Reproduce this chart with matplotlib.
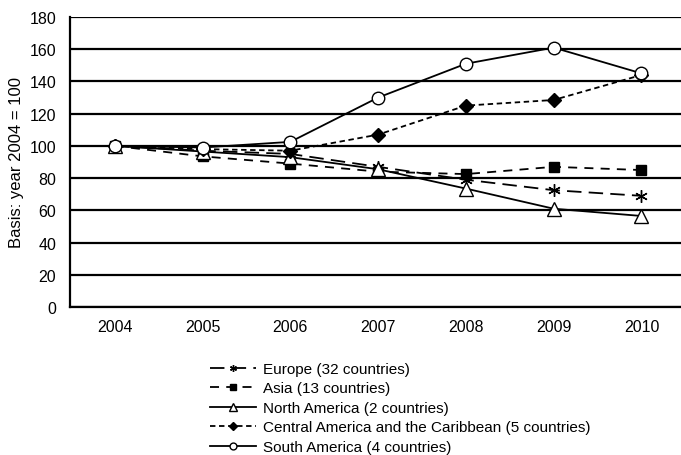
import matplotlib
matplotlib.use("Agg")
import matplotlib.pyplot as plt

plt.rcParams['font.family'] = ['Liberation Sans', 'DejaVu Sans']

years = ['2004', '2005', '2006', '2007', '2008', '2009', '2010']
europe = [100, 97, 95, 87, 79, 72.5, 69]
asia = [100, 93.5, 89, 84, 82.5, 87, 85]
north_america = [100, 96.5, 93, 85.5, 73.5, 61, 56.5]
central_america = [100, 98, 97, 107, 125, 128.5, 144]
south_america = [100, 99, 102.5, 130, 151, 161, 145]

labels = ['Europe (32 countries)', 'Asia (13 countries)', 'North America (2 countries)',
          'Central America and the Caribbean (5 countries)', 'South America (4 countries)']
y_ticks = [0, 20, 40, 60, 80, 100, 120, 140, 160, 180]

fig = plt.figure(figsize=(6.81, 4.56), dpi=100)
ax = fig.add_axes([70/681, 1-308/456, 1.0 - 70/681, (308-18)/456])

x = list(range(len(years)))
lw = 1.3
ax.plot(x, europe, color='black', lw=lw, ls=(0, (8, 4)), marker=(6, 2, 0), ms=9, mew=1.0, label=labels[0])
ax.plot(x, asia, color='black', lw=lw, ls=(0, (5, 4)), marker='s', ms=7.5, mfc='black', label=labels[1])
ax.plot(x, north_america, color='black', lw=lw, ls='-', marker='^', ms=10, mfc='white', mew=1.0, label=labels[2])
ax.plot(x, central_america, color='black', lw=lw, ls=(0, (3, 2)), marker='D', ms=7.5, mfc='black', label=labels[3])
ax.plot(x, south_america, color='black', lw=lw, ls='-', marker='o', ms=9, mfc='white', mew=1.0, label=labels[4])

ax.set_xlim(-0.51, 6.45)
ax.set_ylim(0, 180)
ax.set_yticks(y_ticks)
ax.set_xticks(x)
ax.set_xticklabels(years)
ax.yaxis.grid(True, color='black', lw=1.6)
ax.set_axisbelow(True)
for s in ['right', 'top']:
    ax.spines[s].set_visible(False)
ax.spines['left'].set_linewidth(1.6)
ax.spines['bottom'].set_linewidth(1.6)
ax.tick_params(axis='both', length=0, labelsize=11.5)
ax.tick_params(axis='y', pad=10)
ax.tick_params(axis='x', pad=9)
ax.set_ylabel('Basis: year 2004 = 100', fontsize=12, labelpad=4)

fig.legend(loc='upper left', bbox_to_anchor=(210/681, 1-363/456), frameon=False,
           fontsize=11, handlelength=3.0, handletextpad=0.45, labelspacing=0.36,
           markerscale=0.55, borderpad=0, borderaxespad=0)

fig.savefig('out.png', dpi=100)
